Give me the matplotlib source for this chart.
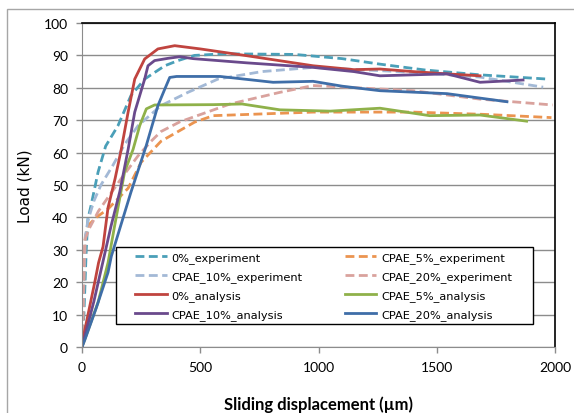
import matplotlib
matplotlib.use("Agg")
import matplotlib.pyplot as plt
from matplotlib.patches import Rectangle

plt.rcParams['font.family'] = ['Lato', 'DejaVu Sans']

# displacement (um) / load (kN)
exp0_x = [0, 8, 14, 18, 25, 38, 68, 100, 152, 207, 265, 350, 406, 476, 600, 900, 1100, 1260, 1450, 1683, 1966]
exp0_y = [0, 10, 22, 30, 39.5, 43.6, 54, 62, 68.3, 77.6, 82.7, 86.8, 88.4, 90, 90.5, 90.3, 89, 87.3, 85.5, 84, 82.7]

exp5_x = [0, 5, 10, 14, 25, 60, 110, 195, 250, 334, 476, 555, 977, 1400, 1700, 1985]
exp5_y = [0, 12, 26, 34, 37.4, 40, 42.6, 49, 57, 63.5, 69.4, 71.4, 72.5, 72.5, 71.8, 70.8]

exp10_x = [0, 5, 10, 14, 25, 50, 80, 130, 180, 237, 334, 448, 575, 760, 977, 1200, 1400, 1683, 1950]
exp10_y = [0, 12, 25, 34, 39, 45, 50, 56, 62.5, 68.3, 74.5, 78.6, 82.7, 85, 86.3, 85.5, 84.8, 83.3, 80.2]

exp20_x = [0, 4, 8, 12, 30, 70, 165, 237, 292, 334, 414, 626, 837, 977, 1400, 1683, 1990]
exp20_y = [0, 11, 24, 33, 36.5, 42, 51.9, 59, 63.5, 66.5, 69.5, 75, 78.6, 80.7, 79.1, 76.5, 74.7]

ana0_x = [0, 4, 54, 70, 89, 110, 140, 166, 195, 223, 265, 321, 392, 500, 697, 977, 1150, 1260, 1400, 1543, 1683]
ana0_y = [0, 2.5, 20, 26, 31, 43, 52, 61, 72.5, 82.7, 88.9, 92, 93, 92, 89.9, 86.8, 85.6, 85.8, 85, 84.3, 83.7]

ana5_x = [0, 68, 110, 138, 180, 216, 244, 272, 307, 555, 677, 837, 1050, 1260, 1470, 1683, 1880]
ana5_y = [0, 13.8, 26, 37.4, 54, 61, 68.3, 73.5, 74.7, 74.8, 75, 73.2, 72.8, 73.7, 71.4, 71.6, 69.7]

ana10_x = [0, 50, 100, 123, 160, 195, 223, 265, 279, 307, 364, 414, 470, 697, 977, 1150, 1260, 1400, 1543, 1683, 1865]
ana10_y = [0, 14, 30, 37.4, 48, 61, 72.5, 82.7, 86.8, 88.4, 89.1, 89.6, 89, 87.7, 86.3, 85, 83.7, 84, 84.3, 81.7, 82.4]

ana20_x = [0, 11, 60, 110, 124, 207, 271, 321, 350, 371, 400, 584, 808, 977, 1100, 1260, 1543, 1797]
ana20_y = [0, 2, 12, 23, 28, 47.8, 62, 74.5, 79.6, 83.2, 83.5, 83.5, 81.7, 82, 80.5, 79.1, 78.2, 75.7]

fig = plt.figure(figsize=(5.74, 4.14), dpi=100)
ax = fig.add_axes([82/574, 1-348/414, (555-82)/574, (348-24)/414])

# outer chart border (Excel style)
fig.patches.append(Rectangle((7/574, -0.05), 1.2, (414-10)/414 + 0.05, transform=fig.transFigure,
                             fill=False, edgecolor='#a6a6a6', linewidth=1.0))

dash = (3.2, 1.6)
lw = 2.0
h_e0, = ax.plot(exp0_x, exp0_y, color='#4a9fb8', lw=lw, dashes=dash, label='0%_experiment')
h_e5, = ax.plot(exp5_x, exp5_y, color='#eb9450', lw=lw, dashes=dash, label='CPAE_5%_experiment')
h_e10, = ax.plot(exp10_x, exp10_y, color='#a3b9d6', lw=lw, dashes=dash, label='CPAE_10%_experiment')
h_e20, = ax.plot(exp20_x, exp20_y, color='#d9a29d', lw=lw, dashes=dash, label='CPAE_20%_experiment')
h_a0, = ax.plot(ana0_x, ana0_y, color='#c0443f', lw=lw, label='0%_analysis')
h_a5, = ax.plot(ana5_x, ana5_y, color='#8fb14a', lw=lw, label='CPAE_5%_analysis')
h_a10, = ax.plot(ana10_x, ana10_y, color='#6a4a8c', lw=lw, label='CPAE_10%_analysis')
h_a20, = ax.plot(ana20_x, ana20_y, color='#3f6ea8', lw=lw, label='CPAE_20%_analysis')

ax.set_xlim(0, 2000)
ax.set_ylim(0, 100)
ax.set_xticks([0, 500, 1000, 1500, 2000])
ax.set_yticks(range(0, 101, 10))
ax.yaxis.grid(True, color='#8c8c8c', linewidth=1.0)
ax.set_axisbelow(True)
ax.tick_params(axis='both', labelsize=10, color='#8c8c8c', length=4, width=1, pad=6)

for s in ['left', 'bottom']:
    ax.spines[s].set_color('#8c8c8c')
for s in ['top', 'right']:
    ax.spines[s].set_color('black')
    ax.spines[s].set_linewidth(1.2)

ax.set_ylabel('Load (kN)', fontsize=11, family='DejaVu Sans', labelpad=8)
ax.set_xlabel('Sliding displacement (\u00b5m)', fontsize=12, fontweight='bold', labelpad=16)

# legend frame drawn separately so the padding matches the reference
ax.add_patch(Rectangle((0.0719, 0.071), 0.8816, 0.2377, transform=ax.transAxes,
                       facecolor='white', edgecolor='black', linewidth=1.0, zorder=4))

handles = [h_e0, h_e10, h_a0, h_a10, h_e5, h_e20, h_a5, h_a20]
leg = ax.legend(handles=handles, labels=[h.get_label() for h in handles], ncol=2,
                loc='upper left', bbox_to_anchor=(0.112, 0.2932, 0.797, 0), mode='expand',
                prop={'family': 'DejaVu Sans', 'size': 8.2}, frameon=False,
                handlelength=2.8, handletextpad=0.4, labelspacing=0.72,
                borderpad=0, borderaxespad=0)
leg.set_zorder(5)

fig.savefig('out.png', dpi=100)
